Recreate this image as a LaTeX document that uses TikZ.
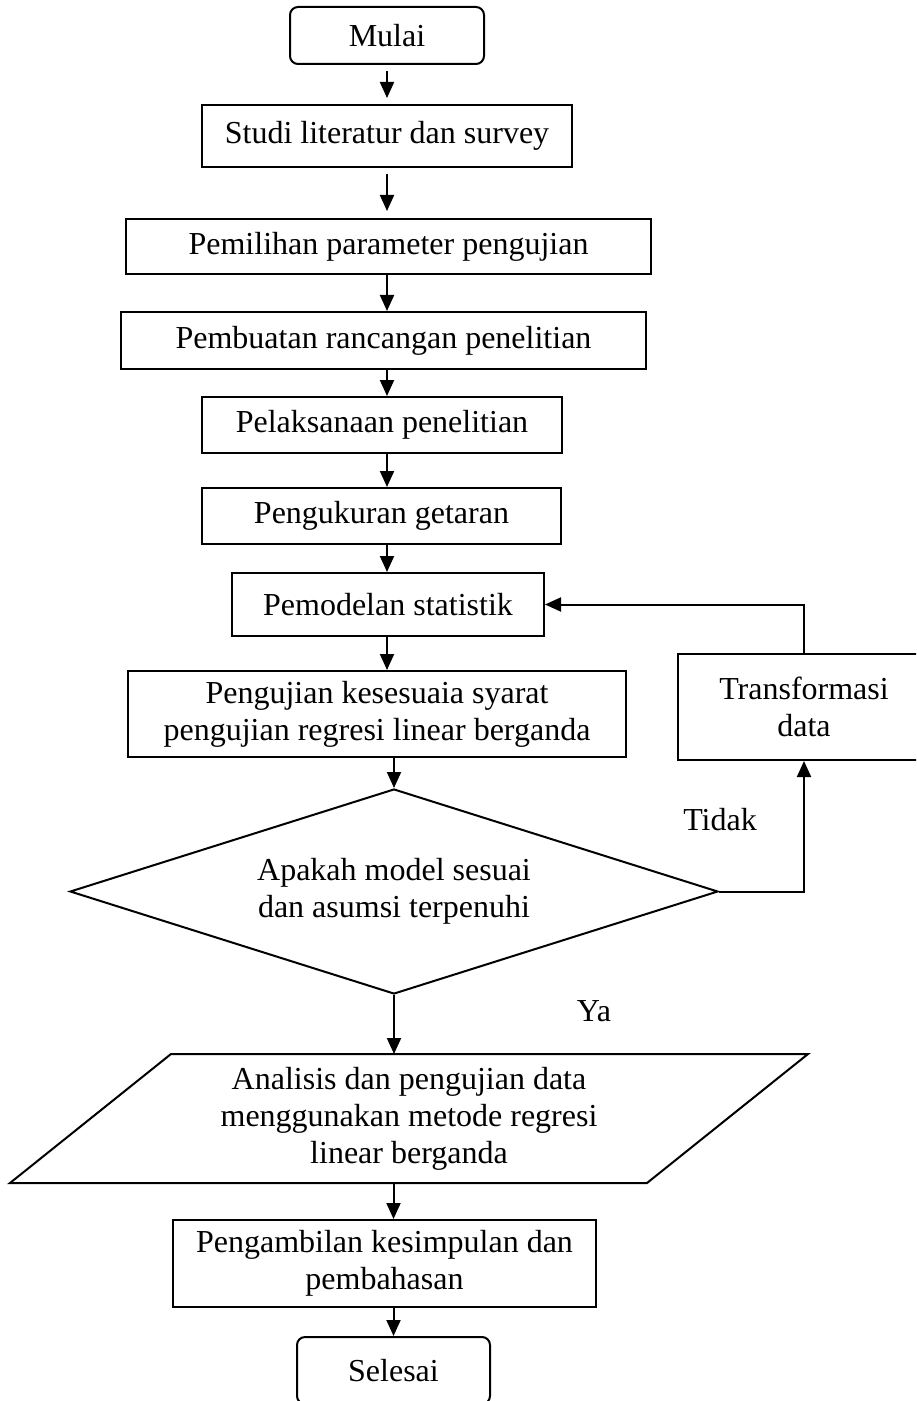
\documentclass[tikz,border=0pt]{standalone}
\usepackage{fontspec}
\setmainfont{Liberation Serif}
\usetikzlibrary{shapes.geometric,arrows.meta}

\begin{document}
\begin{tikzpicture}[
    x=0.5pt, y=-0.5pt,
    font=\fontsize{16}{18.5}\selectfont,
    line width=1pt,
    box/.style={draw,rectangle,align=center,inner sep=0pt},
    term/.style={box,rounded corners=4pt},
    dec/.style={draw,diamond,shape aspect=3.16,align=center,inner sep=0pt,
                minimum width=324pt,minimum height=102.5pt},
    io/.style={rectangle,align=center,inner sep=0pt,
               minimum width=398pt,minimum height=63.5pt},
    arr/.style={-{Triangle[length=8pt,width=7pt]}}]

\useasboundingbox (0,0) rectangle (916,1401);
\clip (0,0) rectangle (916,1401);

\node[term,minimum width=97pt,minimum height=28.5pt] (mulai) at (387,35.5) {Mulai};
\node[box,minimum width=185pt,minimum height=31pt] (studi) at (387,136) {Studi literatur dan survey};
\node[box,minimum width=262.5pt,minimum height=27.5pt] (pilih) at (388.5,246.5) {Pemilihan parameter pengujian};
\node[box,minimum width=262.5pt,minimum height=28.5pt] (rancang) at (383.5,340.5) {Pembuatan rancangan penelitian};
\node[box,minimum width=180pt,minimum height=28pt] (laksana) at (382,425) {Pelaksanaan penelitian};
\node[box,minimum width=179.5pt,minimum height=28pt] (ukur) at (381.5,516) {Pengukuran getaran};
\node[box,minimum width=156pt,minimum height=31.5pt] (model) at (388,604.5) {Pemodelan statistik};
\node[box,minimum width=249pt,minimum height=43pt] (uji) at (377,714)
    {Pengujian kesesuaia syarat\\pengujian regresi linear berganda};
\node[box,minimum width=126pt,minimum height=53pt] (transf) at (804,707) {Transformasi\\data};
\node[dec] (dia) at (394,891.5) {Apakah model sesuai\\dan asumsi terpenuhi};
\node[io] (para) at (409,1118.5)
    {Analisis dan pengujian data\\menggunakan metode regresi\\linear berganda};
\draw (para.south west) -- ++(637,0) -- (para.north east) -- ++(-637,0) -- cycle;
\node[box,minimum width=211.5pt,minimum height=43.5pt] (ambil) at (384.5,1263.5)
    {Pengambilan kesimpulan dan\\pembahasan};
\node[term,minimum width=96.5pt,minimum height=33.5pt] (selesai) at (393.5,1370.5) {Selesai};

\node (tidak) at (720,820) {Tidak};
\node (ya) at (594,1011) {Ya};

\draw[arr,shorten <=3pt,shorten >=3pt] (mulai.south) -- (mulai.south |- studi.north);
\draw[arr,shorten <=3pt,shorten >=3.5pt] (studi.south) -- (studi.south |- pilih.north);
\draw[arr] (studi.south |- pilih.south) -- (studi.south |- rancang.north);
\draw[arr] (studi.south |- rancang.south) -- (studi.south |- laksana.north);
\draw[arr] (studi.south |- laksana.south) -- (studi.south |- ukur.north);
\draw[arr] (studi.south |- ukur.south) -- (studi.south |- model.north);
\draw[arr] (studi.south |- model.south) -- (studi.south |- uji.north);
\draw[arr] (dia.north |- uji.south) -- (dia.north);
\draw[arr] (dia.south) -- (dia.south |- para.north);
\draw[arr] (selesai.north |- para.south) -- (selesai.north |- ambil.north);
\draw[arr] (selesai.north |- ambil.south) -- (selesai.north);
\draw[arr] (dia.east) -| (transf.south);
\draw[arr] (transf.north) |- (model.east);

\end{tikzpicture}
\end{document}
